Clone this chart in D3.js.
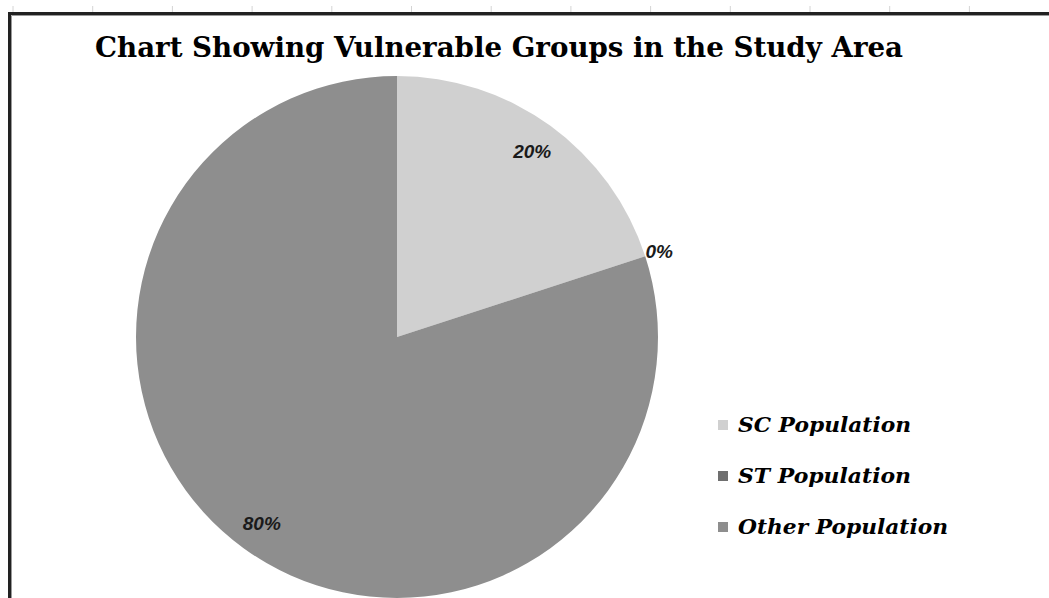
<!DOCTYPE html>
<html>
<head>
<meta charset="utf-8">
<script src="https://cdn.jsdelivr.net/npm/d3@7/dist/d3.min.js"></script>
<style>
  html, body { margin: 0; padding: 0; background: #ffffff; }
  svg { display: block; }
</style>
</head>
<body>
<svg id="chart" width="1049" height="598"></svg>
<script>
// Population groups and their shares (%)
const categories = ["SC Population", "ST Population", "Other Population"];
const shares = [20, 0, 80];
const sliceColors = ["#d0d0d0", "#6f6f6f", "#8e8e8e"];
const titleText = "Chart Showing Vulnerable Groups in the Study Area";

const W = 1049, H = 598;
const svg = d3.select("#chart");

// Spreadsheet column ticks above the chart frame
const colScale = d3.scaleLinear().domain([0, 1]).range([13, 92.7]);
const cols = d3.range(0, 13);
svg.append("g").selectAll("line").data(cols).join("line")
  .attr("x1", d => colScale(d)).attr("x2", d => colScale(d))
  .attr("y1", 6).attr("y2", 12)
  .attr("stroke", "#d4d4d4").attr("stroke-width", 1);

// Chart frame (left and top edges visible)
svg.append("path")
  .attr("d", `M9.5,${H} L9.5,13.5 L${W},13.5`)
  .attr("fill", "none").attr("stroke", "#222").attr("stroke-width", 3);
svg.append("path")
  .attr("d", `M11.5,${H} L11.5,15.5 L${W},15.5`)
  .attr("fill", "none").attr("stroke", "#9a9a9a").attr("stroke-width", 1);

// Title
svg.append("text")
  .attr("x", 499).attr("y", 57)
  .attr("text-anchor", "middle")
  .style("font-family", "'DejaVu Serif', serif")
  .style("font-weight", "bold")
  .style("font-size", "28px")
  .attr("fill", "#000")
  .attr("textLength", 808).attr("lengthAdjust", "spacingAndGlyphs")
  .text(titleText);

// Pie
const cx = 397, cy = 337, R = 261;
const pie = d3.pie().sort(null).value(d => d.v);
const data = categories.map((c, i) => ({ c, v: shares[i], color: sliceColors[i] }));
const arcs = pie(data);
const arc = d3.arc().innerRadius(0).outerRadius(R);

const g = svg.append("g").attr("transform", `translate(${cx},${cy})`);
g.selectAll("path").data(arcs).join("path")
  .attr("d", arc)
  .attr("fill", d => d.data.color);

// Data labels: inside for real slices, outside for the empty one
const inner = d3.arc().innerRadius(230).outerRadius(230);
const outer = d3.arc().innerRadius(277).outerRadius(277);
g.selectAll("text.lbl").data(arcs).join("text")
  .attr("class", "lbl")
  .each(function (d) {
    const empty = d.data.v === 0;
    const p = (empty ? outer : inner).centroid(d);
    d3.select(this)
      .attr("x", empty ? p[0] - 15 : p[0])
      .attr("y", p[1] + 7)
      .attr("text-anchor", empty ? "start" : "middle");
  })
  .style("font-family", "'Liberation Sans', Arial, sans-serif")
  .style("font-weight", "bold")
  .style("font-style", "italic")
  .style("font-size", "19px")
  .attr("fill", "#1a1a1a")
  .text(d => d3.format(".0f")(d.data.v) + "%");

// Legend
const legendY = d3.scalePoint().domain(categories).range([425, 527]);
const legendWidth = [173, 173, 210];
const leg = svg.append("g");
const items = leg.selectAll("g").data(data).join("g")
  .attr("transform", d => `translate(718,${legendY(d.c)})`);
items.append("rect")
  .attr("x", 0).attr("y", -5).attr("width", 10).attr("height", 10)
  .attr("fill", d => d.color);
items.append("text")
  .attr("x", 20).attr("y", 7)
  .style("font-family", "'DejaVu Serif', serif")
  .style("font-weight", "bold")
  .style("font-style", "italic")
  .style("font-size", "20px")
  .attr("fill", "#000")
  .attr("textLength", (d, i) => legendWidth[i])
  .attr("lengthAdjust", "spacingAndGlyphs")
  .text(d => d.c);
</script>
</body>
</html>
